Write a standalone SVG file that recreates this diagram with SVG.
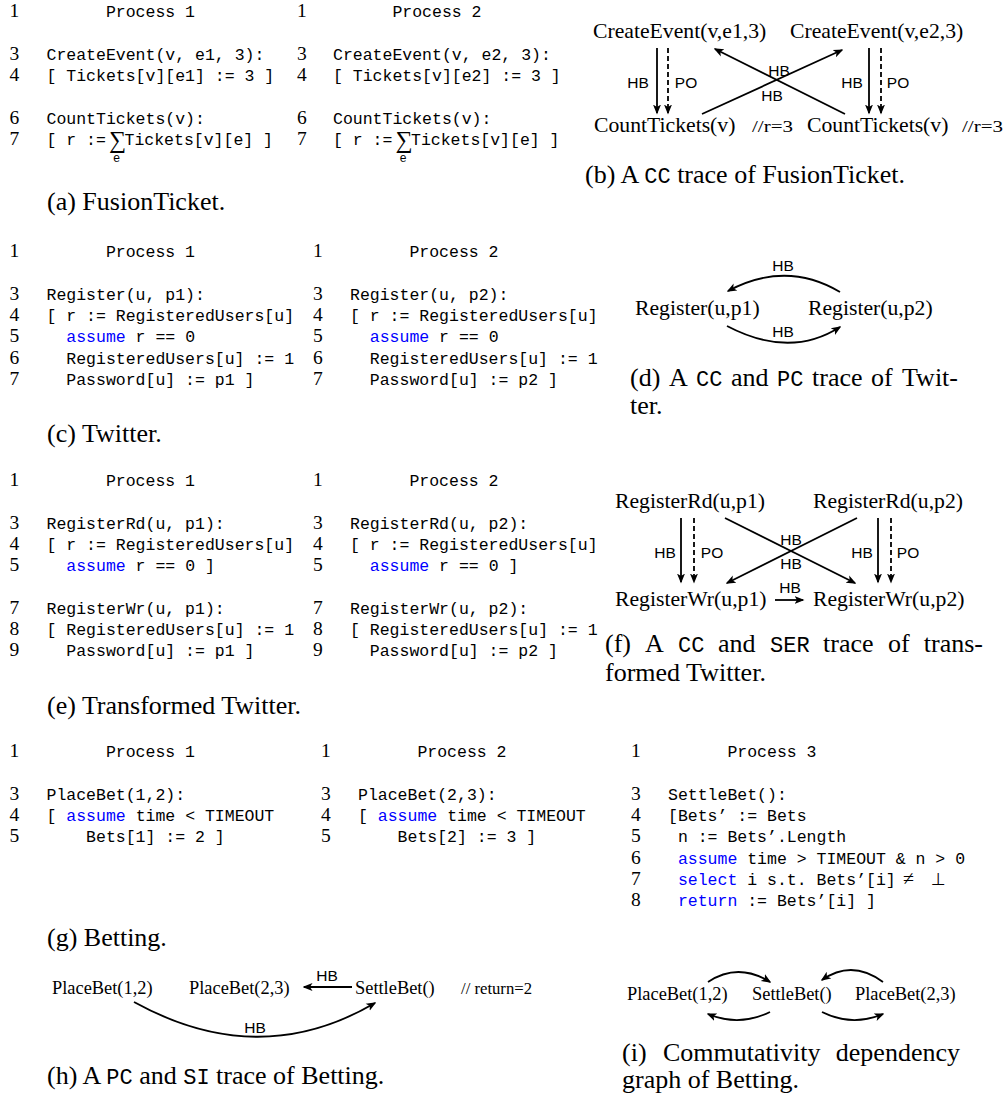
<svg xmlns="http://www.w3.org/2000/svg" width="1007" height="1098" viewBox="0 0 1007 1098">
<style>
.num{font-family:"Liberation Serif",serif;font-size:19.5px;fill:#000}
.code{font-family:"Liberation Mono",monospace;font-size:16.5px;fill:#000}
.sub{font-family:"Liberation Mono",monospace;font-size:12px;fill:#000}
.sig{font-family:"Liberation Serif",serif;font-size:24px;fill:#000}
.math{font-family:"Liberation Serif","DejaVu Serif",serif;font-size:20px;fill:#000}
.bot{font-family:"DejaVu Sans",sans-serif;font-size:17px;fill:#000}
.kw{fill:#0000ff}
.node{font-family:"Liberation Serif",serif;font-size:21.7px;fill:#000}
.node2{font-family:"Liberation Serif",serif;font-size:18.4px;fill:#000}
.cap{font-family:"Liberation Serif",serif;font-size:26px;fill:#000}
.cm{font-family:"Liberation Mono",monospace;font-size:22px}
.lab{font-family:"Liberation Sans",sans-serif;font-size:15.5px;fill:#000;text-anchor:middle}
.cmt{font-family:"Liberation Serif",serif;font-size:16px;fill:#000}
.e{stroke:#000;stroke-width:1.8;fill:none;marker-end:url(#ah)}
.d{stroke-dasharray:5 3}
</style>
<defs>
<marker id="ah" viewBox="0 0 10 10" refX="8.5" refY="5" markerWidth="10" markerHeight="10" markerUnits="userSpaceOnUse" orient="auto"><path d="M0,1 L10,5 L0,9 L2.5,5 z" fill="#000"/></marker>
</defs>
<rect width="1007" height="1098" fill="#fff"/>

<g id="listing-a">
<text class="num" x="9.5" y="17">1</text><text class="code" x="105.9" y="17">Process 1</text>
<text class="num" x="9.5" y="59.6">3</text><text class="code" x="46.5" y="59.6">CreateEvent(v, e1, 3):</text>
<text class="num" x="9.5" y="80.9">4</text><text class="code" x="46.5" y="80.9">[ Tickets[v][e1] := 3 ]</text>
<text class="num" x="9.5" y="123.5">6</text><text class="code" x="46.5" y="123.5">CountTickets(v):</text>
<text class="num" x="9.5" y="144.8">7</text><text class="code" x="46.5" y="144.8">[ r :=</text><text class="sig" x="109" y="148">∑</text><text class="code" x="124.5" y="144.8">Tickets[v][e] ]</text><text class="sub" x="113" y="161.5">e</text>
<text class="num" x="297" y="17">1</text><text class="code" x="392.4" y="17">Process 2</text>
<text class="num" x="297" y="59.6">3</text><text class="code" x="333" y="59.6">CreateEvent(v, e2, 3):</text>
<text class="num" x="297" y="80.9">4</text><text class="code" x="333" y="80.9">[ Tickets[v][e2] := 3 ]</text>
<text class="num" x="297" y="123.5">6</text><text class="code" x="333" y="123.5">CountTickets(v):</text>
<text class="num" x="297" y="144.8">7</text><text class="code" x="333" y="144.8">[ r :=</text><text class="sig" x="395.5" y="148">∑</text><text class="code" x="411" y="144.8">Tickets[v][e] ]</text><text class="sub" x="399.5" y="161.5">e</text>
</g>
<text id="cap-a" class="cap" x="47" y="210">(a) FusionTicket.</text>

<g id="listing-c">
<text class="num" x="9.5" y="257">1</text><text class="code" x="105.9" y="257">Process 1</text>
<text class="num" x="9.5" y="299.6">3</text><text class="code" x="46.5" y="299.6">Register(u, p1):</text>
<text class="num" x="9.5" y="320.9">4</text><text class="code" x="46.5" y="320.9">[ r := RegisteredUsers[u]</text>
<text class="num" x="9.5" y="342.2">5</text><text class="code" x="66.3" y="342.2" xml:space="preserve"><tspan class="kw">assume</tspan> r == 0</text>
<text class="num" x="9.5" y="363.5">6</text><text class="code" x="66.3" y="363.5">RegisteredUsers[u] := 1</text>
<text class="num" x="9.5" y="384.8">7</text><text class="code" x="66.3" y="384.8">Password[u] := p1 ]</text>
<text class="num" x="313" y="257">1</text><text class="code" x="409.4" y="257">Process 2</text>
<text class="num" x="313" y="299.6">3</text><text class="code" x="350" y="299.6">Register(u, p2):</text>
<text class="num" x="313" y="320.9">4</text><text class="code" x="350" y="320.9">[ r := RegisteredUsers[u]</text>
<text class="num" x="313" y="342.2">5</text><text class="code" x="369.8" y="342.2" xml:space="preserve"><tspan class="kw">assume</tspan> r == 0</text>
<text class="num" x="313" y="363.5">6</text><text class="code" x="369.8" y="363.5">RegisteredUsers[u] := 1</text>
<text class="num" x="313" y="384.8">7</text><text class="code" x="369.8" y="384.8">Password[u] := p2 ]</text>
</g>
<text id="cap-c" class="cap" x="47" y="442">(c) Twitter.</text>

<g id="listing-e">
<text class="num" x="9.5" y="486">1</text><text class="code" x="105.9" y="486">Process 1</text>
<text class="num" x="9.5" y="528.6">3</text><text class="code" x="46.5" y="528.6">RegisterRd(u, p1):</text>
<text class="num" x="9.5" y="549.9">4</text><text class="code" x="46.5" y="549.9">[ r := RegisteredUsers[u]</text>
<text class="num" x="9.5" y="571.2">5</text><text class="code" x="66.3" y="571.2" xml:space="preserve"><tspan class="kw">assume</tspan> r == 0 ]</text>
<text class="num" x="9.5" y="613.8">7</text><text class="code" x="46.5" y="613.8">RegisterWr(u, p1):</text>
<text class="num" x="9.5" y="635.1">8</text><text class="code" x="46.5" y="635.1">[ RegisteredUsers[u] := 1</text>
<text class="num" x="9.5" y="656.4">9</text><text class="code" x="66.3" y="656.4">Password[u] := p1 ]</text>
<text class="num" x="313" y="486">1</text><text class="code" x="409.4" y="486">Process 2</text>
<text class="num" x="313" y="528.6">3</text><text class="code" x="350" y="528.6">RegisterRd(u, p2):</text>
<text class="num" x="313" y="549.9">4</text><text class="code" x="350" y="549.9">[ r := RegisteredUsers[u]</text>
<text class="num" x="313" y="571.2">5</text><text class="code" x="369.8" y="571.2" xml:space="preserve"><tspan class="kw">assume</tspan> r == 0 ]</text>
<text class="num" x="313" y="613.8">7</text><text class="code" x="350" y="613.8">RegisterWr(u, p2):</text>
<text class="num" x="313" y="635.1">8</text><text class="code" x="350" y="635.1">[ RegisteredUsers[u] := 1</text>
<text class="num" x="313" y="656.4">9</text><text class="code" x="369.8" y="656.4">Password[u] := p2 ]</text>
</g>
<text id="cap-e" class="cap" x="47" y="714">(e) Transformed Twitter.</text>

<g id="listing-g">
<text class="num" x="9.5" y="757">1</text><text class="code" x="105.9" y="757">Process 1</text>
<text class="num" x="9.5" y="799.6">3</text><text class="code" x="46.5" y="799.6">PlaceBet(1,2):</text>
<text class="num" x="9.5" y="820.9">4</text><text class="code" x="46.5" y="820.9" xml:space="preserve">[ <tspan class="kw">assume</tspan> time &lt; TIMEOUT</text>
<text class="num" x="9.5" y="842.2">5</text><text class="code" x="86.1" y="842.2">Bets[1] := 2 ]</text>
<text class="num" x="321" y="757">1</text><text class="code" x="417.4" y="757">Process 2</text>
<text class="num" x="321" y="799.6">3</text><text class="code" x="358" y="799.6">PlaceBet(2,3):</text>
<text class="num" x="321" y="820.9">4</text><text class="code" x="358" y="820.9" xml:space="preserve">[ <tspan class="kw">assume</tspan> time &lt; TIMEOUT</text>
<text class="num" x="321" y="842.2">5</text><text class="code" x="397.6" y="842.2">Bets[2] := 3 ]</text>
<text class="num" x="631" y="757">1</text><text class="code" x="727.4" y="757">Process 3</text>
<text class="num" x="631" y="799.6">3</text><text class="code" x="668" y="799.6">SettleBet():</text>
<text class="num" x="631" y="820.9">4</text><text class="code" x="668" y="820.9">[Bets’ := Bets</text>
<text class="num" x="631" y="842.2">5</text><text class="code" x="677.9" y="842.2">n := Bets’.Length</text>
<text class="num" x="631" y="863.5">6</text><text class="code" x="677.9" y="863.5" xml:space="preserve"><tspan class="kw">assume</tspan> time &gt; TIMEOUT &amp; n &gt; 0</text>
<text class="num" x="631" y="884.8">7</text><text class="code" x="677.9" y="884.8" xml:space="preserve"><tspan class="kw">select</tspan> i s.t. Bets’[i]</text><text class="math" x="903" y="884.8">≠</text><text class="bot" x="931" y="884.8">⊥</text>
<text class="num" x="631" y="906.1">8</text><text class="code" x="677.9" y="906.1" xml:space="preserve"><tspan class="kw">return</tspan> := Bets’[i] ]</text>
</g>
<text id="cap-g" class="cap" x="47" y="946">(g) Betting.</text>

<g id="b-n1"><text class="node" x="593" y="38">CreateEvent(v,e1,3)</text></g>
<g id="b-n2"><text class="node" x="790" y="38">CreateEvent(v,e2,3)</text></g>
<g id="b-n3"><text class="node" x="594" y="132">CountTickets(v)</text><text class="cmt" x="752" y="132" textLength="41" lengthAdjust="spacingAndGlyphs">//r=3</text></g>
<g id="b-n4"><text class="node" x="807" y="132">CountTickets(v)</text><text class="cmt" x="962" y="132" textLength="41" lengthAdjust="spacingAndGlyphs">//r=3</text></g>
<text id="cap-b" class="cap" x="585" y="183">(b) A <tspan class="cm">CC</tspan> trace of FusionTicket.</text>

<g id="d-n1"><text class="node" x="635" y="315">Register(u,p1)</text></g>
<g id="d-n2"><text class="node" x="808" y="315">Register(u,p2)</text></g>
<g id="cap-d">
<text class="cap" y="386"><tspan x="630">(d)</tspan><tspan x="669">A</tspan><tspan x="696" class="cm">CC</tspan><tspan x="731">and</tspan><tspan x="777" class="cm">PC</tspan><tspan x="812">trace</tspan><tspan x="871">of</tspan></text>
<text class="cap" x="958" y="386" text-anchor="end">Twit-</text>
<text class="cap" x="630" y="414">ter.</text>
</g>

<g id="f-n1"><text class="node" x="615" y="508">RegisterRd(u,p1)</text></g>
<g id="f-n2"><text class="node" x="813" y="508">RegisterRd(u,p2)</text></g>
<g id="f-n3"><text class="node" x="615" y="606">RegisterWr(u,p1)</text></g>
<g id="f-n4"><text class="node" x="813" y="606">RegisterWr(u,p2)</text></g>
<g id="cap-f">
<text class="cap" y="652"><tspan x="605">(f)</tspan><tspan x="645">A</tspan><tspan x="678" class="cm">CC</tspan><tspan x="718">and</tspan><tspan x="770" class="cm">SER</tspan><tspan x="823">trace</tspan><tspan x="888">of</tspan></text>
<text class="cap" x="983" y="652" text-anchor="end">trans-</text>
<text class="cap" x="605" y="681">formed Twitter.</text>
</g>

<g id="h-n1"><text class="node2" x="52" y="994">PlaceBet(1,2)</text></g>
<g id="h-n2"><text class="node2" x="189" y="994">PlaceBet(2,3)</text></g>
<g id="h-n3"><text class="node2" x="355" y="994">SettleBet()</text><text class="cmt" x="461" y="994" font-size="14.5" textLength="71" lengthAdjust="spacingAndGlyphs">// return=2</text></g>
<text id="cap-h" class="cap" x="47" y="1084">(h) A <tspan class="cm">PC</tspan> and <tspan class="cm">SI</tspan> trace of Betting.</text>

<g id="i-n1"><text class="node2" x="627" y="1000">PlaceBet(1,2)</text></g>
<g id="i-n2"><text class="node2" x="752" y="1000">SettleBet()</text></g>
<g id="i-n3"><text class="node2" x="855" y="1000">PlaceBet(2,3)</text></g>
<g id="cap-i">
<text class="cap" y="1061"><tspan x="622">(i)</tspan><tspan x="663">Commutativity</tspan></text>
<text class="cap" x="960" y="1061" text-anchor="end">dependency</text>
<text class="cap" x="622" y="1088">graph of Betting.</text>
</g>

<g id="connectors">
<line class="e" x1="657" y1="48" x2="657" y2="113"/>
<line class="e d" x1="668" y1="48" x2="668" y2="113"/>
<line class="e" x1="869" y1="48" x2="869" y2="113"/>
<line class="e d" x1="881" y1="48" x2="881" y2="113"/>
<line class="e" x1="702" y1="114" x2="842" y2="50"/>
<line class="e" x1="845" y1="114" x2="715" y2="49"/>
<path class="e" d="M840,292 Q786,260 728,291"/>
<path class="e" d="M727,326 Q790,359 840,327"/>
<line class="e" x1="681" y1="518" x2="681" y2="582"/>
<line class="e d" x1="694" y1="518" x2="694" y2="582"/>
<line class="e" x1="878" y1="518" x2="878" y2="582"/>
<line class="e d" x1="891" y1="518" x2="891" y2="582"/>
<line class="e" x1="725" y1="518" x2="855" y2="583"/>
<line class="e" x1="857" y1="518" x2="727" y2="583"/>
<line class="e" x1="775" y1="600" x2="803" y2="600"/>
<line class="e" x1="352" y1="987" x2="304" y2="987"/>
<path class="e" d="M134,1002 Q259,1071 375,1003"/>
<path class="e" d="M708,982 Q738,962 770,982"/>
<path class="e" d="M770,1012 Q739,1027 708,1014"/>
<path class="e" d="M883,982 Q852,959 822,980"/>
<path class="e" d="M822,1012 Q852,1027 883,1014"/>
</g>

<g id="edge-labels">
<text class="lab" x="638" y="87.5">HB</text><text class="lab" x="686" y="87.5">PO</text>
<text class="lab" x="852" y="87.5">HB</text><text class="lab" x="898" y="87.5">PO</text>
<text class="lab" x="779" y="75.5">HB</text><text class="lab" x="772" y="100.5">HB</text>
<text class="lab" x="783" y="270.5">HB</text><text class="lab" x="783" y="336.5">HB</text>
<text class="lab" x="665" y="557.5">HB</text><text class="lab" x="712" y="557.5">PO</text>
<text class="lab" x="862" y="557.5">HB</text><text class="lab" x="908" y="557.5">PO</text>
<text class="lab" x="791" y="544.5">HB</text><text class="lab" x="791" y="568.5">HB</text>
<text class="lab" x="790" y="592.5">HB</text>
<text class="lab" x="327" y="980.5">HB</text>
<text class="lab" x="255" y="1032.5">HB</text>
</g>
</svg>
